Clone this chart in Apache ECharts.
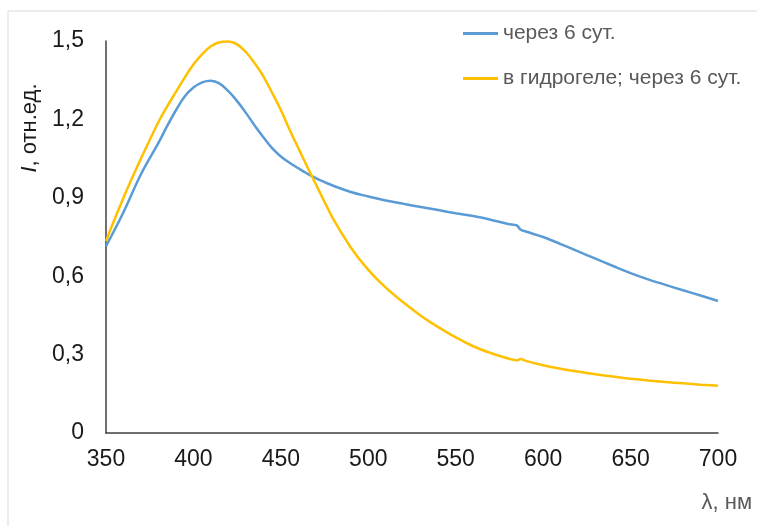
<!DOCTYPE html>
<html>
<head>
<meta charset="utf-8">
<script src="https://cdn.jsdelivr.net/npm/echarts@6/dist/echarts.min.js"></script>
<style>
  html, body { margin: 0; padding: 0; background: #fff; }
  #chart { width: 757px; height: 526px; }
</style>
</head>
<body>
<div id="chart"></div>
<script>
// wavelength, nm
const wavelengths = [350, 360, 370, 380, 385, 390, 395, 400, 405, 410, 415, 420, 425, 430, 435, 440, 445, 450, 455, 460, 465, 470, 475, 480, 490, 500, 510, 520, 530, 540, 550, 560, 570, 580, 585, 587, 590, 600, 610, 620, 630, 640, 650, 660, 670, 680, 690, 700]
// через 6 сут.
const seriesBlue = [0.715, 0.845, 0.99, 1.11, 1.175, 1.235, 1.288, 1.322, 1.342, 1.348, 1.337, 1.308, 1.27, 1.225, 1.177, 1.132, 1.09, 1.058, 1.034, 1.013, 0.993, 0.975, 0.96, 0.946, 0.922, 0.905, 0.89, 0.877, 0.865, 0.853, 0.841, 0.83, 0.816, 0.8, 0.794, 0.779, 0.771, 0.75, 0.723, 0.695, 0.667, 0.639, 0.612, 0.588, 0.567, 0.546, 0.526, 0.505]
// в гидрогеле; через 6 сут.
const seriesYellow = [0.735, 0.9, 1.05, 1.19, 1.25, 1.305, 1.36, 1.41, 1.45, 1.48, 1.495, 1.498, 1.487, 1.458, 1.415, 1.365, 1.302, 1.236, 1.16, 1.09, 1.02, 0.952, 0.884, 0.818, 0.71, 0.624, 0.556, 0.5, 0.449, 0.405, 0.366, 0.332, 0.306, 0.285, 0.278, 0.283, 0.276, 0.259, 0.246, 0.235, 0.225, 0.216, 0.208, 0.201, 0.195, 0.19, 0.185, 0.181]

const seriesNames = ['через 6 сут.', 'в гидрогеле; через 6 сут.']
const xTicks = { min: 350, max: 700, step: 50 }
const yTicks = { min: 0, max: 1.5, step: 0.3 }

const font = '"Liberation Sans", Arial, sans-serif'

const chart = echarts.init(document.getElementById('chart'))
chart.setOption({
  animation: false,
  grid: { left: 106, right: 39, top: 41, bottom: 93 },
  legend: {
    orient: 'vertical',
    left: 463,
    top: 23,
    padding: 0,
    icon: 'rect',
    itemWidth: 35,
    itemHeight: 3,
    itemGap: 24,
    textStyle: { fontFamily: font, fontSize: 21, color: '#595959' },
    data: seriesNames,
  },
  xAxis: {
    type: 'value',
    min: xTicks.min,
    max: xTicks.max,
    interval: xTicks.step,
    axisLine: { lineStyle: { color: '#404040', width: 1.5 } },
    axisTick: { show: false },
    splitLine: { show: false },
    axisLabel: { fontFamily: font, fontSize: 23, color: '#1a1a1a', margin: 15 },
  },
  yAxis: {
    type: 'value',
    min: yTicks.min,
    max: yTicks.max,
    interval: yTicks.step,
    axisLine: { show: true, lineStyle: { color: '#404040', width: 1.5 } },
    axisTick: { show: false },
    splitLine: { show: false },
    axisLabel: {
      fontFamily: font,
      fontSize: 23,
      color: '#1a1a1a',
      margin: 22,
      formatter: (v) => String(+v.toFixed(1)).replace('.', ','),
    },
  },
  graphic: [
    { type: 'line', shape: { x1: 8, y1: 11, x2: 757, y2: 11 }, style: { stroke: '#d9d9d9', lineWidth: 1 }, silent: true },
    { type: 'line', shape: { x1: 8, y1: 11, x2: 8, y2: 526 }, style: { stroke: '#d9d9d9', lineWidth: 1 }, silent: true },
    {
      type: 'text',
      x: 30,
      y: 128,
      rotation: Math.PI / 2,
      style: {
        text: '{i|I}, отн.ед.',
        fontFamily: font,
        fontSize: 22,
        fill: '#1a1a1a',
        align: 'center',
        verticalAlign: 'middle',
        rich: { i: { fontStyle: 'italic', fontFamily: font, fontSize: 22, fill: '#1a1a1a' } },
      },
    },
    {
      type: 'text',
      x: 752,
      y: 503,
      style: {
        text: 'λ, нм',
        fontFamily: font,
        fontSize: 22,
        fill: '#595959',
        align: 'right',
        verticalAlign: 'middle',
      },
    },
  ],
  series: [
    {
      name: seriesNames[0],
      type: 'line',
      showSymbol: false,
      smooth: 0.4,
      lineStyle: { color: '#5B9BD5', width: 2.5 },
      itemStyle: { color: '#5B9BD5' },
      data: wavelengths.map((x, i) => [x, seriesBlue[i]]),
    },
    {
      name: seriesNames[1],
      type: 'line',
      showSymbol: false,
      smooth: 0.4,
      lineStyle: { color: '#FFC000', width: 2.5 },
      itemStyle: { color: '#FFC000' },
      data: wavelengths.map((x, i) => [x, seriesYellow[i]]),
    },
  ],
})
</script>
</body>
</html>
